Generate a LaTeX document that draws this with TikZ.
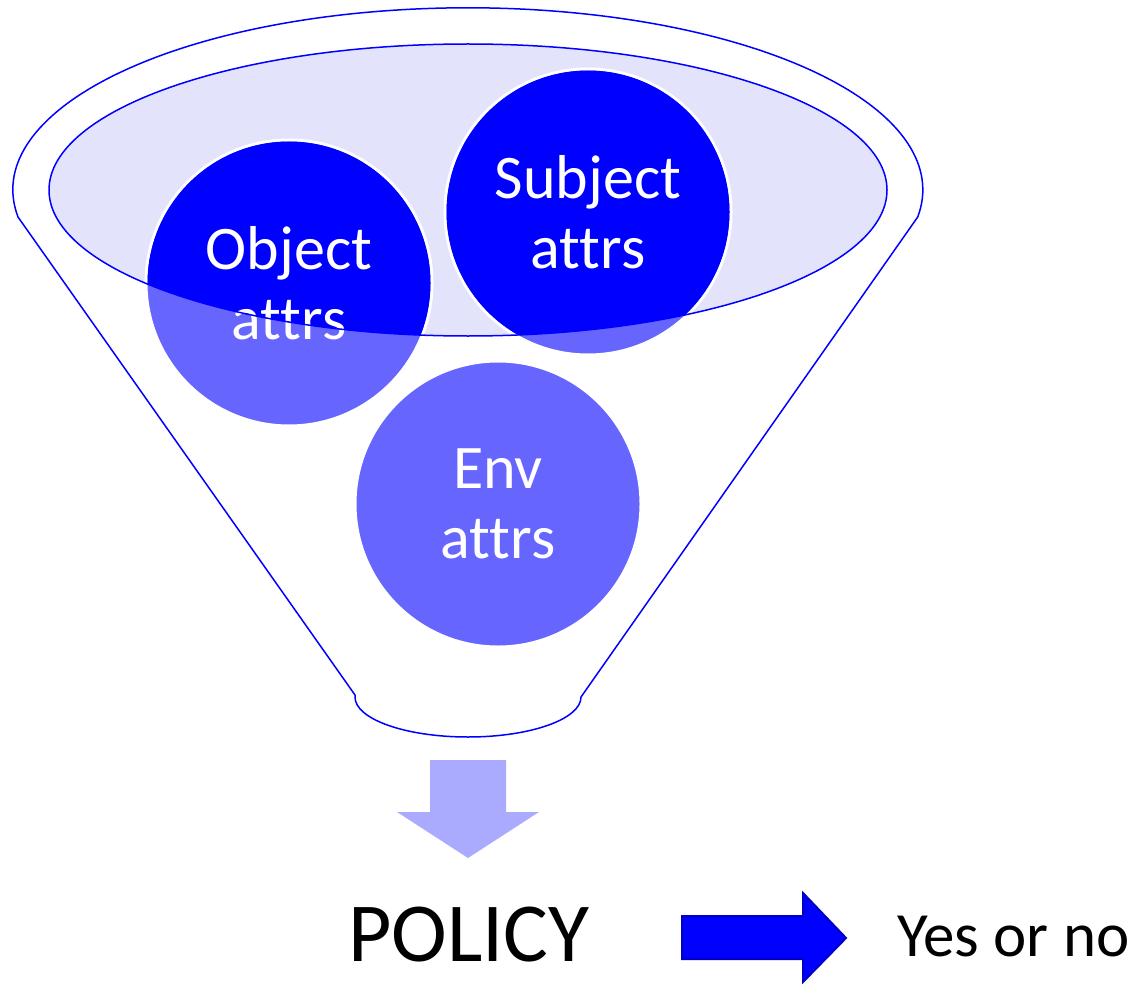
\documentclass[tikz,border=0pt]{standalone}
\usepackage{fontspec}
\setmainfont{Carlito}[Ligatures=NoCommon]
\definecolor{lav}{RGB}{227,227,252}
\definecolor{bubblelight}{RGB}{102,102,255}
\definecolor{arrowlight}{RGB}{170,170,255}
\definecolor{pureblue}{RGB}{0,0,255}
\definecolor{darkedge}{RGB}{0,0,200}
\tikzset{
  funnelline/.style={draw=pureblue, line width=1.5pt},
  bubble/.style={circle, minimum size=286pt, inner sep=0pt, fill=bubblelight, draw=white, line width=3pt},
  bubtext/.style={text=white, align=center, font=\fontsize{62}{70}\selectfont},
}
\begin{document}
\begin{tikzpicture}[x=1pt,y=-1pt]
\useasboundingbox (0,0) rectangle (1139,984);
% funnel outline
\coordinate (fl) at (355,695);
\coordinate (fr) at (581,697);
\draw[funnelline, fill=white] (fl) -- (18,217) arc[start angle=171.4, end angle=368.6, x radius=455, y radius=182] -- (fr) arc[start angle=0, end angle=180, x radius=113, y radius=40] -- cycle;
% inner ellipse fill
\fill[lav] (468,190) ellipse[x radius=419, y radius=146];
% bubbles
\node[bubble] (obj) at (289,283) {};
\node[bubble] (subj) at (588,212) {};
\node[bubble] (env) at (498,504) {};
\begin{scope}
  \clip (468,190) ellipse[x radius=419, y radius=146];
  \fill[pureblue] (obj.center) circle[radius=141.5];
  \fill[pureblue] (subj.center) circle[radius=141.5];
\end{scope}
\node[bubtext] (objt) at (obj) {Object\\attrs};
\node[bubtext] (subjt) at (subj) {Subject\\attrs};
\node[bubtext] (envt) at (env) {Env\\attrs};
% inner ellipse outline
\draw[funnelline] (468,190) ellipse[x radius=419, y radius=146];
% down arrow
\fill[arrowlight] (430,760) -- (506,760) -- (506,812) -- (539,812) -- (468,858) -- (397,812) -- (430,812) -- cycle;
% policy
\node[font=\fontsize{84}{90}\selectfont, inner sep=0pt] (policy) at (469,935) {POLICY};
% right arrow
\draw[fill=pureblue, draw=darkedge, line width=2pt, line join=miter] (682,916) -- (803,916) -- (803,893) -- (846,938) -- (803,982) -- (803,959) -- (682,959) -- cycle;
\node[font=\fontsize{63}{70}\selectfont, inner sep=0pt, anchor=west] (yn) at (897,937) {Yes or no};
\end{tikzpicture}
\end{document}
